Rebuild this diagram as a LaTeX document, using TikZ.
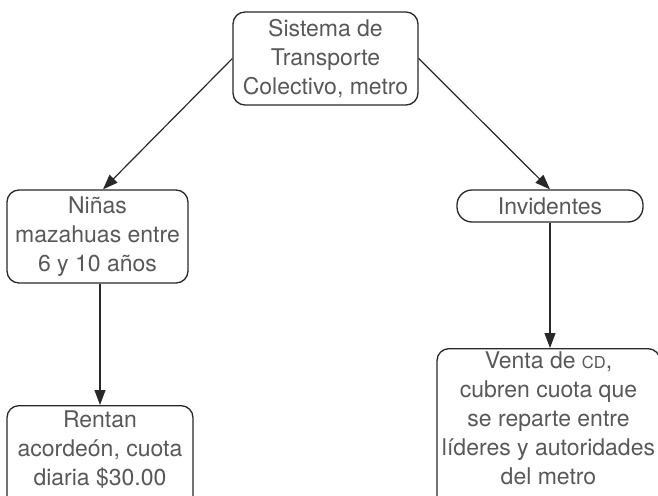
\documentclass[tikz,border=0pt]{standalone}
\usepackage{fontspec}
\setmainfont{TeX Gyre Heros}
\usetikzlibrary{arrows.meta}
\definecolor{txt}{RGB}{88,88,88}
\definecolor{ln}{RGB}{40,40,40}
\begin{document}
\begin{tikzpicture}[x=1pt,y=-1pt,
  box/.style={draw=ln, line width=1.3pt, rounded corners=12pt, align=center, text=txt,
    font=\fontsize{23}{28.8}\selectfont, inner sep=0pt},
  arr/.style={draw=ln, line width=1.2pt, -{Triangle[length=15pt,width=11pt]}}]
\useasboundingbox (0,0) rectangle (658,495);
\node[box, minimum width=185pt, minimum height=93pt] (top) at (325.5,58.5)
  {Sistema de\\Transporte\\Colectivo, metro};
\node[box, minimum width=181pt, minimum height=93pt] (ninas) at (97.5,236.5)
  {Niñas\\mazahuas entre\\6 y 10 años};
\node[box, rounded corners=15pt, minimum width=186pt, minimum height=32pt] (invid) at (550,206)
  {Invidentes};
\node[box, anchor=north, minimum width=186pt, inner ysep=5pt, text depth=40pt] (rentan) at (100,405)
  {Rentan\\acordeón, cuota\\diaria \$30.00};
\node[box, anchor=north, minimum width=223pt, inner ysep=3.5pt, text depth=30pt] (venta) at (548.5,348)
  {Venta de {\fontsize{16.5}{16.5}\selectfont CD},\\cubren cuota que\\se reparte entre\\líderes y autoridades\\del metro};
\draw[arr] (top.west) -- ([xshift=5.5pt]ninas.north);
\draw[arr] (top.east) -- (invid.north);
\draw[arr] (ninas.south -| rentan.north) -- (rentan.north);
\draw[arr] (invid.south) -- (invid.south |- venta.north);
\end{tikzpicture}
\end{document}
